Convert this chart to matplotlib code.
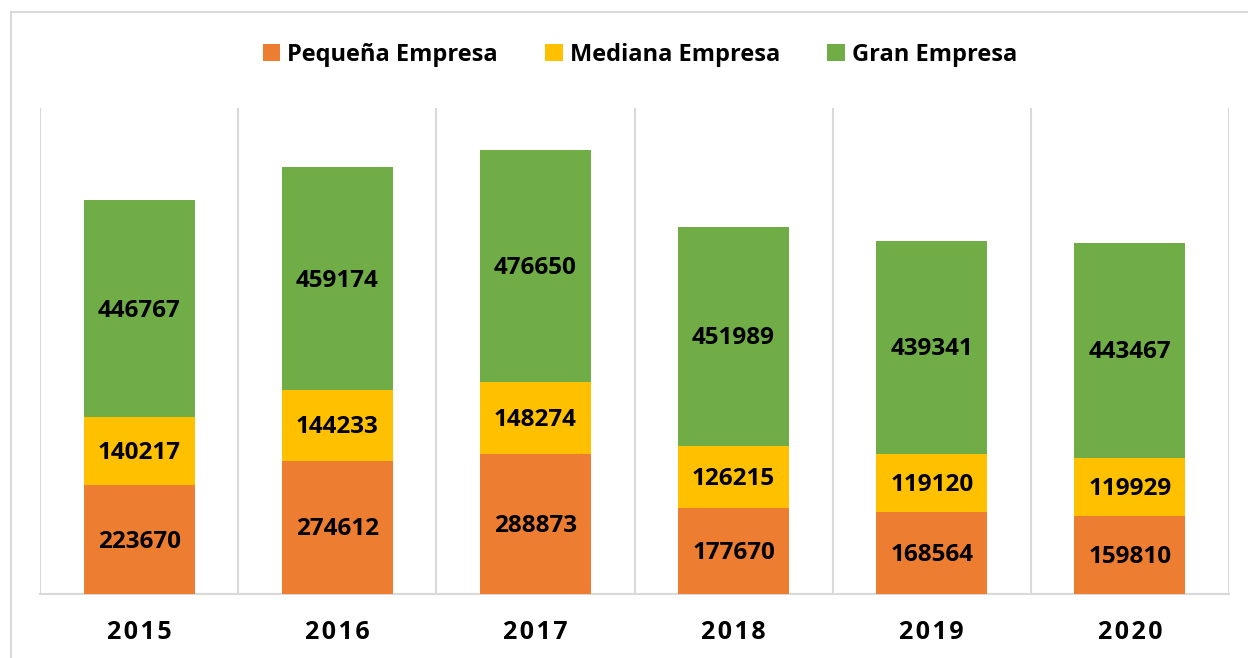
import matplotlib.pyplot as plt
from matplotlib.patches import Rectangle, Patch

years = ['2015', '2016', '2017', '2018', '2019', '2020']
pequena = [223670, 274612, 288873, 177670, 168564, 159810]
mediana = [140217, 144233, 148274, 126215, 119120, 119929]
gran = [446767, 459174, 476650, 451989, 439341, 443467]

series = [
    ('Pequeña Empresa', pequena, '#ED7D31'),
    ('Mediana Empresa', mediana, '#FFC000'),
    ('Gran Empresa', gran, '#70AD47'),
]

plt.rcParams['font.family'] = ['Open Sans', 'DejaVu Sans']

fig = plt.figure(figsize=(12.48, 6.58), dpi=100)
ax = fig.add_axes([40 / 1248, 64 / 658, 1189 / 1248, 486 / 658])

# chart border (only left/top visible in the reference)
fig.patches.append(Rectangle((11 / 1248, -0.1), 1.2, 1 - 12 / 658 + 0.1,
                             transform=fig.transFigure, fill=False,
                             edgecolor='#D9D9D9', linewidth=1.5))

x = list(range(len(years)))
bottom = [0] * len(years)
handles = []
for name, vals, color in series:
    bars = ax.bar(x, vals, width=0.56, bottom=bottom, color=color, zorder=3)
    for rect, v in zip(bars, vals):
        ax.text(rect.get_x() + rect.get_width() / 2, rect.get_y() + rect.get_height() / 2 - 4000,
                str(v), ha='center', va='center', fontsize=17.5, fontweight='bold',
                color='black', zorder=4)
    bottom = [b + v for b, v in zip(bottom, vals)]
    handles.append(Patch(facecolor=color, label=name))

ax.set_xlim(-0.5, len(years) - 0.5)
ax.set_ylim(0, 1000000)
for b in range(len(years) + 1):
    ax.axvline(b - 0.5, color='#D9D9D9', linewidth=1.5, zorder=1)

for s in ['top', 'right', 'left']:
    ax.spines[s].set_visible(False)
ax.spines['bottom'].set_color('#D9D9D9')
ax.spines['bottom'].set_linewidth(1.5)
ax.set_yticks([])
ax.set_xticks(x)
ax.set_xticklabels(['\u200a'.join(y) for y in years], fontsize=18, fontweight='bold')
ax.tick_params(axis='x', length=0, pad=19)

fig.legend(handles=handles, loc='center', bbox_to_anchor=(640 / 1248, 1 - 55 / 658),
           ncol=3, frameon=False, prop={'size': 17, 'weight': 'bold'},
           handlelength=0.75, handleheight=0.75, handletextpad=0.3, columnspacing=2.0)

fig.savefig('out.png', dpi=100)
